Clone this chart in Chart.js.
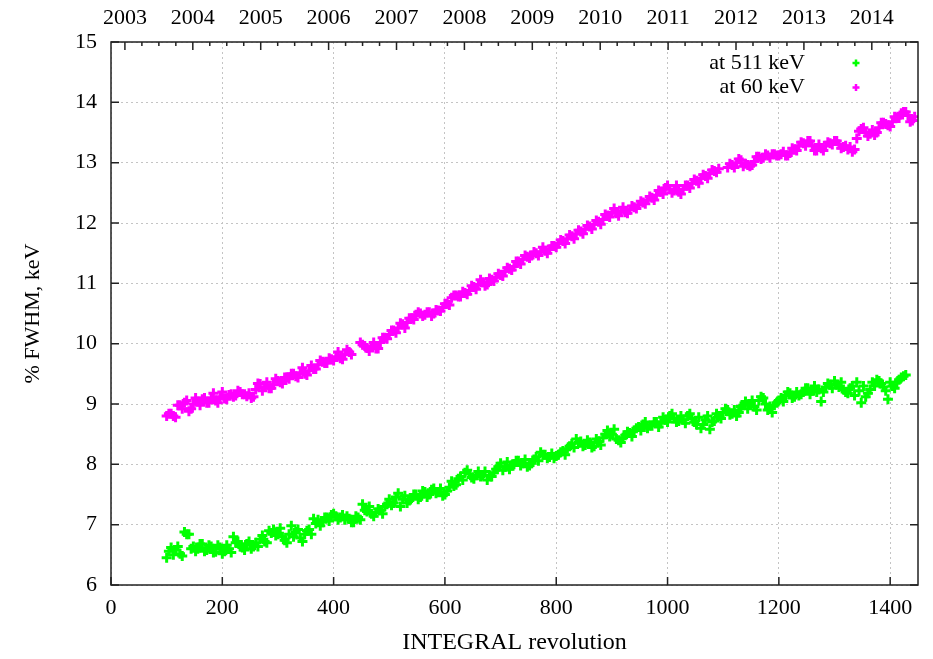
<!DOCTYPE html>
<html>
<head>
<meta charset="utf-8">
<title>SPI FWHM vs revolution</title>
<script src="https://cdn.jsdelivr.net/npm/chart.js@4.4.1/dist/chart.umd.min.js"></script>
<style>
  html, body { margin: 0; padding: 0; background: #fff; }
</style>
</head>
<body>
<canvas id="fwhm_graph" width="933" height="659"></canvas>
<script>
// revolution numbers, first batch of measurements
var revolutions = [
  100, 108, 116, 124, 132, 140, 148, 156, 164, 172, 180, 188, 196, 204, 212, 220, 228, 236, 244, 252,
  260, 268, 276, 284, 292, 300, 308, 316, 324, 332, 340, 348, 356, 364, 372, 380, 388, 396, 404, 412,
  420, 428, 436, 444, 452, 460, 468, 476, 484, 492, 500, 508, 516, 524, 532, 540, 548, 556, 564, 572,
  580, 588, 596, 604, 612, 620, 628, 636, 644, 652, 660, 668, 676, 684, 692, 700, 708, 716, 724, 732,
  740, 748, 756, 764, 772, 780, 788, 796, 804, 812, 820, 828, 836, 844, 852, 860, 868, 876, 884, 892,
  900, 908, 916, 924, 932, 940, 948, 956, 964, 972, 980, 988, 996, 1004, 1012, 1020, 1028, 1036, 1044, 1052,
  1060, 1068, 1076, 1084, 1092, 1100, 1108, 1116, 1124, 1132, 1140, 1148, 1156, 1164, 1172, 1180, 1188, 1196, 1204, 1212,
  1220, 1228, 1236, 1244, 1252, 1260, 1268, 1276, 1284, 1292, 1300, 1308, 1316, 1324, 1332, 1340, 1348, 1356, 1364, 1372,
  1380, 1388, 1396, 1404, 1412, 1420, 1428, 1436, 1444
];

// % FWHM at 511 keV
var fwhm511 = [
  6.45, 6.62, 6.58, 6.52, 6.88, 6.84, 6.64, 6.60, 6.68, 6.58, 6.64, 6.55, 6.62, 6.56, 6.60, 6.80, 6.72, 6.62, 6.68, 6.60,
  6.70, 6.76, 6.72, 6.90, 6.92, 6.84, 6.80, 6.70, 6.98, 6.88, 6.78, 6.84, 6.92, 7.10, 7.08, 7.04, 7.12, 7.16, 7.14, 7.12,
  7.08, 7.10, 7.04, 7.12, 7.34, 7.22, 7.18, 7.20, 7.24, 7.30, 7.42, 7.36, 7.52, 7.42, 7.36, 7.44, 7.50, 7.46, 7.54, 7.50,
  7.60, 7.54, 7.48, 7.56, 7.72, 7.66, 7.80, 7.86, 7.84, 7.76, 7.88, 7.82, 7.74, 7.80, 7.92, 8.02, 7.96, 7.92, 8.00, 8.06,
  8.02, 7.96, 8.02, 8.12, 8.20, 8.16, 8.12, 8.10, 8.16, 8.22, 8.26, 8.34, 8.42, 8.38, 8.32, 8.36, 8.30, 8.38, 8.44, 8.56,
  8.50, 8.42, 8.36, 8.48, 8.52, 8.56, 8.62, 8.66, 8.60, 8.64, 8.70, 8.68, 8.74, 8.80, 8.76, 8.72, 8.74, 8.80, 8.76, 8.66,
  8.60, 8.74, 8.58, 8.72, 8.80, 8.86, 8.90, 8.84, 8.80, 8.96, 9.04, 9.00, 8.96, 9.06, 9.10, 8.90, 8.86, 9.02, 9.10, 9.14,
  9.18, 9.12, 9.14, 9.20, 9.26, 9.22, 9.20, 9.04, 9.28, 9.32, 9.38, 9.28, 9.24, 9.18, 9.30, 9.36, 9.02, 9.12, 9.24, 9.30,
  9.38, 9.28, 9.08, 9.30, 9.36, 9.44, 9.48, null, null
];

// % FWHM at 60 keV
var fwhm60 = [
  8.80, 8.84, 8.78, 8.98, 9.02, 8.88, 9.00, 9.04, 9.08, 9.02, 9.10, 9.06, 9.12, 9.09, 9.15, 9.12, 9.22, 9.16, 9.13, 9.10,
  9.24, 9.33, 9.28, 9.26, 9.32, 9.38, 9.34, 9.44, 9.50, 9.46, 9.52, 9.50, 9.55, 9.58, 9.65, 9.70, 9.68, 9.74, 9.78, 9.76,
  9.82, 9.86, null, null, 9.98, 9.93, 9.96, 9.92, 10.02, 10.10, 10.15, 10.22, 10.26, 10.32, 10.35, 10.42, 10.48, 10.50, 10.48, 10.52,
  10.50, 10.55, 10.60, 10.66, 10.76, 10.80, 10.78, 10.84, 10.88, 10.94, 10.98, 11.02, 10.98, 11.06, 11.10, 11.14, 11.20, 11.24, 11.28, 11.36,
  11.40, 11.44, 11.46, 11.50, 11.52, 11.54, 11.56, 11.62, 11.66, 11.70, 11.74, 11.78, 11.82, 11.86, 11.90, 11.94, 11.98, 12.02, 12.06, 12.12,
  12.18, 12.16, 12.20, 12.18, 12.22, 12.26, 12.30, 12.34, 12.38, 12.42, 12.46, 12.52, 12.58, 12.56, 12.54, 12.52, 12.56, 12.62, 12.66, 12.70,
  12.74, 12.78, 12.82, 12.86, 12.90, null, 12.92, 12.96, 13.00, 13.04, 12.98, 12.94, 13.02, 13.10, 13.08, 13.12, 13.14, 13.12, 13.14, 13.12,
  13.16, 13.22, 13.28, 13.32, 13.36, 13.28, 13.20, 13.24, 13.28, 13.32, 13.36, 13.30, 13.26, 13.22, 13.18, 13.40, 13.56, 13.50, 13.48, 13.46,
  13.58, 13.66, 13.62, 13.68, 13.74, 13.82, 13.84, 13.68, 13.76
];

// revolution numbers, second batch of measurements
var revolutions2 = [
  104, 112, 120, 128, 136, 144, 152, 160, 168, 176, 184, 192, 200, 208, 216, 224, 232, 240, 248, 256,
  264, 272, 280, 288, 296, 304, 312, 320, 328, 336, 344, 352, 360, 368, 376, 384, 392, 400, 408, 416,
  424, 432, 440, 448, 456, 464, 472, 480, 488, 496, 504, 512, 520, 528, 536, 544, 552, 560, 568, 576,
  584, 592, 600, 608, 616, 624, 632, 640, 648, 656, 664, 672, 680, 688, 696, 704, 712, 720, 728, 736,
  744, 752, 760, 768, 776, 784, 792, 800, 808, 816, 824, 832, 840, 848, 856, 864, 872, 880, 888, 896,
  904, 912, 920, 928, 936, 944, 952, 960, 968, 976, 984, 992, 1000, 1008, 1016, 1024, 1032, 1040, 1048, 1056,
  1064, 1072, 1080, 1088, 1096, 1104, 1112, 1120, 1128, 1136, 1144, 1152, 1160, 1168, 1176, 1184, 1192, 1200, 1208, 1216,
  1224, 1232, 1240, 1248, 1256, 1264, 1272, 1280, 1288, 1296, 1304, 1312, 1320, 1328, 1336, 1344, 1352, 1360, 1368, 1376,
  1384, 1392, 1400, 1408, 1416, 1424, 1432, 1440
];

var fwhm511b = [
  6.56, 6.50, 6.64, 6.48, 6.84, 6.60, 6.56, 6.68, 6.56, 6.66, 6.54, 6.66, 6.52, 6.66, 6.54, 6.70, 6.64, 6.58, 6.72, 6.64,
  6.64, 6.82, 6.70, 6.86, 6.82, 6.94, 6.74, 6.84, 6.80, 6.92, 6.72, 6.90, 6.84, 7.02, 6.98, 7.12, 7.06, 7.18, 7.08, 7.16,
  7.14, 7.04, 7.14, 7.08, 7.24, 7.30, 7.14, 7.26, 7.18, 7.34, 7.32, 7.46, 7.30, 7.48, 7.40, 7.50, 7.42, 7.56, 7.46, 7.58,
  7.52, 7.60, 7.50, 7.62, 7.64, 7.76, 7.74, 7.90, 7.78, 7.82, 7.80, 7.88, 7.82, 7.86, 7.96, 7.90, 8.04, 7.98, 8.06, 7.98,
  8.08, 7.98, 8.08, 8.06, 8.16, 8.10, 8.18, 8.14, 8.20, 8.16, 8.30, 8.28, 8.36, 8.30, 8.40, 8.28, 8.42, 8.32, 8.50, 8.46,
  8.58, 8.40, 8.44, 8.54, 8.46, 8.60, 8.56, 8.70, 8.64, 8.70, 8.62, 8.78, 8.70, 8.84, 8.70, 8.80, 8.68, 8.84, 8.70, 8.78,
  8.66, 8.80, 8.70, 8.84, 8.76, 8.92, 8.82, 8.90, 8.86, 8.98, 8.92, 9.06, 8.90, 9.12, 9.00, 8.96, 8.98, 9.06, 9.04, 9.20,
  9.10, 9.20, 9.16, 9.26, 9.16, 9.30, 9.24, 9.20, 9.34, 9.26, 9.32, 9.36, 9.20, 9.26, 9.14, 9.22, 9.30, 9.18, 9.36, 9.40,
  9.34, 9.22, 9.36, 9.26, 9.40, 9.46, null, null
];

var fwhm60b = [
  8.84, 8.80, 8.98, 8.92, 9.06, 8.92, 9.10, 8.98, 9.10, 9.02, 9.18, 9.02, 9.20, 9.08, 9.16, 9.14, 9.20, 9.16, 9.18, 9.12,
  9.34, 9.22, 9.36, 9.26, 9.42, 9.36, 9.44, 9.42, 9.50, 9.44, 9.60, 9.48, 9.64, 9.58, 9.72, 9.68, 9.76, 9.72, 9.86, 9.74,
  9.90, 9.82, null, 10.02, 9.96, 9.88, 10.02, 9.92, 10.10, 10.08, 10.22, 10.18, 10.34, 10.26, 10.42, 10.40, 10.52, 10.46, 10.52, 10.46,
  10.56, 10.54, 10.66, 10.64, 10.80, 10.78, 10.86, 10.82, 10.96, 10.90, 11.06, 10.96, 11.08, 11.04, 11.16, 11.12, 11.26, 11.22, 11.36, 11.32,
  11.46, 11.42, 11.52, 11.46, 11.60, 11.50, 11.62, 11.60, 11.72, 11.66, 11.80, 11.74, 11.88, 11.82, 11.96, 11.90, 12.04, 11.98, 12.14, 12.10,
  12.24, 12.12, 12.26, 12.16, 12.28, 12.24, 12.36, 12.32, 12.44, 12.38, 12.54, 12.48, 12.62, 12.50, 12.62, 12.48, 12.62, 12.58, 12.72, 12.66,
  12.80, 12.74, 12.88, 12.84, null, null, 12.98, 12.92, 13.06, 12.94, 12.96, 12.96, 13.10, 13.06, 13.14, 13.08, 13.14, 13.12, 13.18, 13.12,
  13.24, 13.20, 13.34, 13.28, 13.36, 13.20, 13.30, 13.20, 13.34, 13.30, 13.36, 13.24, 13.28, 13.26, 13.22, 13.52, 13.58, 13.44, 13.54, 13.50,
  13.66, 13.64, 13.60, 13.76, 13.74, 13.84, 13.78, 13.70
];

var xTicks = [0, 200, 400, 600, 800, 1000, 1200, 1400];
var yTicks = [6, 7, 8, 9, 10, 11, 12, 13, 14, 15];

// revolution at the start of each calendar year
var yearLabels = ['2003', '2004', '2005', '2006', '2007', '2008', '2009', '2010', '2011', '2012', '2013', '2014'];
var yearRevs = [25, 147, 269, 391, 513, 635, 757, 879, 1001, 1123, 1245, 1367];

var FONT = '"Liberation Serif", "Times New Roman", serif';

function toPoints(revs, values) {
    var pts = [];
    for (var i = 0; i < revs.length; i++) {
        if (values[i] !== null) pts.push({ x: revs[i], y: values[i] });
    }
    return pts;
}

function crossAt(ctx, x, y, r, color) {
    ctx.save();
    ctx.strokeStyle = color;
    ctx.lineWidth = 2.5;
    ctx.beginPath();
    ctx.moveTo(x - r, y); ctx.lineTo(x + r, y);
    ctx.moveTo(x, y - r); ctx.lineTo(x, y + r);
    ctx.stroke();
    ctx.restore();
}

// box around the plot with inward tick marks (gnuplot style)
var framePlugin = {
    id: 'frame',
    afterDatasetsDraw: function(chart) {
        var ctx = chart.ctx, a = chart.chartArea;
        var sx = chart.scales.x, sy = chart.scales.y, st = chart.scales.x2;
        ctx.save();
        ctx.strokeStyle = '#222';
        ctx.lineWidth = 1.5;
        ctx.beginPath();
        yTicks.forEach(function(v) {
            var py = sy.getPixelForValue(v);
            ctx.moveTo(a.left, py); ctx.lineTo(a.left + 8, py);
            ctx.moveTo(a.right, py); ctx.lineTo(a.right - 8, py);
        });
        xTicks.forEach(function(v) {
            var px = sx.getPixelForValue(v);
            ctx.moveTo(px, a.bottom); ctx.lineTo(px, a.bottom - 8);
        });
        yearRevs.forEach(function(v) {
            var px = st.getPixelForValue(v);
            ctx.moveTo(px, a.top); ctx.lineTo(px, a.top + 8);
            for (var q = 1; q < 4; q++) {
                var m = st.getPixelForValue(v + q * 30.5);
                if (m < a.right) { ctx.moveTo(m, a.top); ctx.lineTo(m, a.top + 4); }
            }
        });
        ctx.stroke();
        ctx.strokeRect(a.left, a.top, a.right - a.left, a.bottom - a.top);
        ctx.restore();
    },
    afterDraw: function(chart) {
        var ctx = chart.ctx;
        ctx.save();
        ctx.font = '22px ' + FONT;
        ctx.fillStyle = '#000';
        ctx.textAlign = 'right';
        ctx.textBaseline = 'middle';
        chart.data.datasets.forEach(function(ds, i) {
            var y = 63 + i * 24.5;
            ctx.fillText(ds.label, 805, y);
            crossAt(ctx, 856, y, 3.5, ds.borderColor);
        });
        ctx.restore();
    }
};

var gridOpts = { color: '#c4c4c4', lineWidth: 1, drawTicks: false };
var dashOpts = { display: false, dash: [2, 3] };

new Chart(document.getElementById('fwhm_graph'), {
    type: 'scatter',
    data: {
        datasets: [
            {
                label: 'at 511 keV',
                data: toPoints(revolutions, fwhm511).concat(toPoints(revolutions2, fwhm511b)),
                borderColor: '#00ff00',
                backgroundColor: '#00ff00',
                pointStyle: 'cross',
                pointRadius: 5,
                borderWidth: 3
            },
            {
                label: 'at 60 keV',
                data: toPoints(revolutions, fwhm60).concat(toPoints(revolutions2, fwhm60b)),
                borderColor: '#ff00ff',
                backgroundColor: '#ff00ff',
                pointStyle: 'cross',
                pointRadius: 5,
                borderWidth: 3
            }
        ]
    },
    options: {
        responsive: false,
        animation: false,
        layout: { padding: { left: 0, right: 15, top: 0, bottom: 0 } },
        plugins: {
            legend: { display: false },
            tooltip: { enabled: false }
        },
        scales: {
            x: {
                type: 'linear',
                position: 'bottom',
                min: 0,
                max: 1450,
                afterBuildTicks: function(s) { s.ticks = xTicks.map(function(v) { return { value: v }; }); },
                afterFit: function(s) { s.height = 74; },
                ticks: {
                    font: { family: FONT, size: 22 }, color: '#000', padding: 10, maxRotation: 0, autoSkip: false,
                    callback: function(v) { return String(v); }
                },
                grid: gridOpts,
                border: dashOpts,
                title: { display: true, text: 'INTEGRAL revolution', font: { family: FONT, size: 24 }, color: '#000', padding: { top: 0, bottom: 2 } }
            },
            x2: {
                type: 'linear',
                position: 'top',
                min: 0,
                max: 1450,
                afterBuildTicks: function(s) { s.ticks = yearRevs.map(function(v) { return { value: v }; }); },
                afterFit: function(s) { s.height = 42; },
                ticks: {
                    font: { family: FONT, size: 22 }, color: '#000', padding: 3, maxRotation: 0, autoSkip: false,
                    callback: function(v, i) { return yearLabels[i]; }
                },
                grid: { display: false },
                border: { display: false }
            },
            y: {
                type: 'linear',
                min: 6,
                max: 15,
                afterBuildTicks: function(s) { s.ticks = yTicks.map(function(v) { return { value: v }; }); },
                afterFit: function(s) { s.width = 111; },
                ticks: { font: { family: FONT, size: 22 }, color: '#000', padding: 14 },
                grid: gridOpts,
                border: dashOpts,
                title: { display: true, text: '% FWHM, keV', font: { family: FONT, size: 22 }, color: '#000', padding: { top: 20, bottom: 0 } }
            }
        }
    },
    plugins: [framePlugin]
});
</script>
</body>
</html>
